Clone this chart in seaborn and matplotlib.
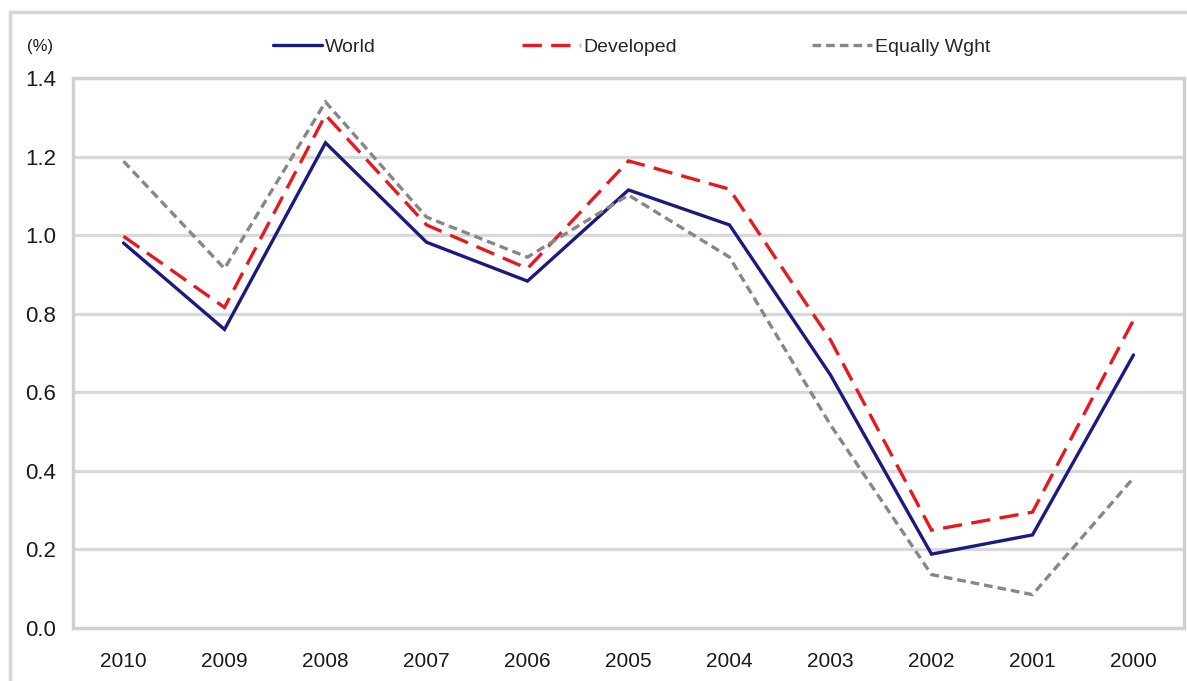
import matplotlib
matplotlib.use("Agg")
import matplotlib.pyplot as plt
import seaborn as sns
import pandas as pd
from matplotlib.patches import Rectangle

years = ["2010", "2009", "2008", "2007", "2006", "2005", "2004", "2003", "2002", "2001", "2000"]
world = [0.98, 0.76, 1.235, 0.982, 0.883, 1.115, 1.026, 0.644, 0.188, 0.237, 0.695]
developed = [0.997, 0.816, 1.306, 1.026, 0.915, 1.189, 1.117, 0.733, 0.249, 0.295, 0.784]
equally_wght = [1.188, 0.915, 1.339, 1.046, 0.944, 1.102, 0.944, 0.517, 0.136, 0.085, 0.382]
series_names = ["World", "Developed", "Equally Wght"]
yticks = [0.0, 0.2, 0.4, 0.6, 0.8, 1.0, 1.2, 1.4]

df = pd.DataFrame({
    "year": years * 3,
    "value": world + developed + equally_wght,
    "series": [s for s in series_names for _ in years],
})
df["pos"] = df["year"].map({y: i for i, y in enumerate(years)})

sns.set_theme(style="white")
plt.rcParams["font.family"] = ["Liberation Sans", "DejaVu Sans"]

fig = plt.figure(figsize=(11.87, 6.81), dpi=100)
ax = fig.add_axes([73 / 1187, 53 / 681, (1184 - 73) / 1187, (628 - 78) / 681])

palette = {"World": "#1b1b7e", "Developed": "#e8191e", "Equally Wght": "#878787"}
dashes = {"World": "", "Developed": (5.8, 2.8), "Equally Wght": (2.6, 1.5)}
sns.lineplot(data=df, x="pos", y="value", hue="series", style="series",
             palette=palette, dashes=dashes, hue_order=series_names,
             style_order=series_names, sort=False, legend=False, ax=ax,
             linewidth=2.4)
for ln in ax.get_lines():
    ln.set_solid_joinstyle("miter")
    ln.set_dash_joinstyle("miter")

ax.set_xlim(-0.5, len(years) - 0.5)
ax.set_ylim(0, 1.4)
ax.set_yticks(yticks)
ax.set_yticklabels([f"{v:.1f}" for v in yticks], fontsize=16, color="#1a1a1a")
ax.yaxis.grid(True, color="#d9d9d9", linewidth=2.4)
ax.xaxis.grid(False)
ax.set_axisbelow(True)
ax.tick_params(axis="y", length=0, pad=12)

# category boundaries as major ticks, labels at centres as minor ticks
ax.set_xticks([i - 0.5 for i in range(len(years) + 1)])
ax.set_xticklabels([])
ax.set_xticks(range(len(years)), minor=True)
ax.set_xticklabels(years, minor=True, fontsize=15, color="#1a1a1a")
ax.tick_params(axis="x", which="major", length=7, width=1.5, color="#d0d0d0", direction="out")
ax.tick_params(axis="x", which="minor", length=0, pad=17)
ax.set_xlabel("")
ax.set_ylabel("")

for side, sp in ax.spines.items():
    sp.set_color("#d0d0d0")
    sp.set_linewidth(2.4)
    sp.set_visible(True)

# outer chart frame
fig.patches.append(Rectangle((10 / 1187, -0.05), 1.2, (681 - 12) / 681 + 0.05,
                             transform=fig.transFigure, fill=False,
                             edgecolor="#d6d6d6", linewidth=2.5))

fig.text(27 / 1187, 1 - 47 / 681, "(%)", fontsize=12, va="center", ha="left", color="#1a1a1a")

lines = ax.get_lines()
legend_x = [273, 522, 812]
hl = [2.5, 3.0, 3.1]
for ln, name, x0, h in zip(lines, series_names, legend_x, hl):
    fig.legend([ln], [name], loc="center left", bbox_to_anchor=(x0 / 1187, 1 - 47 / 681),
               frameon=False, borderpad=0, borderaxespad=0, handletextpad=0.15,
               handlelength=h, fontsize=14)

fig.savefig("out.png", dpi=100)
